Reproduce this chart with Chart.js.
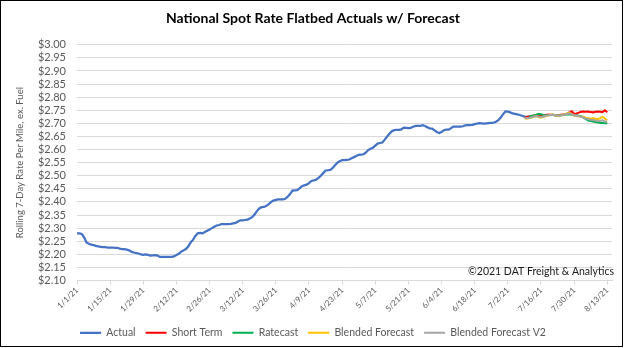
<!DOCTYPE html>
<html>
<head>
<meta charset="utf-8">
<script src="https://cdn.jsdelivr.net/npm/chart.js@4.4.0/dist/chart.umd.min.js"></script>
<style>
  html, body { margin: 0; padding: 0; background: #fff; }
  #wrap { position: relative; width: 624px; height: 348px; }
  #frame { position: absolute; left: 0; top: 0; width: 623px; height: 347px; box-sizing: border-box; border: 1px solid #000; pointer-events: none; }
  canvas { position: absolute; left: 0; top: 0; }
</style>
</head>
<body>
<div id="wrap">
  <canvas id="c" width="624" height="348"></canvas>
  <div id="frame"></div>
</div>
<script>
// ---- Data ----
const chartTitle = 'National Spot Rate Flatbed Actuals w/ Forecast';
const yAxisTitle = 'Rolling 7-Day Rate Per Mile, ex. Fuel';
const copyrightText = '\u00A92021 DAT Freight & Analytics';
const seriesNames = ['Actual', 'Short Term', 'Ratecast', 'Blended Forecast', 'Blended Forecast V2'];

// daily categories 1/1/21 .. 8/15/21
const firstDay = [2021, 0, 1];
const dayCount = 227;
const tickLabels = ['1/1/21','1/15/21','1/29/21','2/12/21','2/26/21','3/12/21','3/26/21','4/9/21','4/23/21','5/7/21','5/21/21','6/4/21','6/18/21','7/2/21','7/16/21','7/30/21','8/13/21'];

// Actual, daily from 1/1/21
const actual = [
  2.280,2.280,2.278,2.265,2.245,2.240,2.237,2.235,2.232,2.230,
  2.228,2.227,2.227,2.226,2.226,2.226,2.225,2.225,2.222,2.220,
  2.220,2.218,2.215,2.210,2.207,2.205,2.203,2.200,2.198,2.200,
  2.198,2.195,2.196,2.197,2.195,2.190,2.190,2.190,2.190,2.190,
  2.190,2.192,2.197,2.202,2.210,2.215,2.220,2.230,2.245,2.255,
  2.270,2.280,2.282,2.280,2.285,2.290,2.295,2.300,2.305,2.310,
  2.312,2.315,2.315,2.315,2.315,2.316,2.318,2.320,2.325,2.330,
  2.330,2.331,2.332,2.337,2.342,2.352,2.365,2.375,2.380,2.381,
  2.385,2.392,2.400,2.405,2.408,2.410,2.410,2.410,2.412,2.420,
  2.430,2.443,2.444,2.445,2.452,2.460,2.463,2.466,2.472,2.480,
  2.482,2.485,2.492,2.500,2.510,2.520,2.521,2.522,2.530,2.540,
  2.550,2.555,2.560,2.560,2.561,2.562,2.567,2.571,2.575,2.580,
  2.581,2.582,2.588,2.598,2.603,2.607,2.615,2.623,2.625,2.627,
  2.638,2.650,2.660,2.670,2.674,2.675,2.675,2.677,2.684,2.683,
  2.682,2.683,2.687,2.690,2.690,2.690,2.693,2.690,2.685,2.681,
  2.680,2.673,2.667,2.663,2.667,2.674,2.676,2.676,2.682,2.688,
  2.688,2.688,2.688,2.689,2.692,2.693,2.693,2.694,2.697,2.699,
  2.701,2.700,2.699,2.700,2.701,2.702,2.703,2.706,2.712,2.722,
  2.735,2.746,2.745,2.742,2.738,2.736,2.734,2.732,2.729,2.726,
  2.725,2.726
];

// Forecasts, daily from 7/9/21 (day index 189)
const forecastStartIndex = 189;
const shortTerm = [
  2.722,2.724,2.726,2.728,2.730,2.732,2.730,2.728,2.730,2.732,
  2.734,2.733,2.732,2.731,2.730,2.732,2.734,2.735,2.737,2.742,
  2.746,2.736,2.738,2.741,2.744,2.745,2.744,2.745,2.743,2.742,
  2.744,2.745,2.744,2.743,2.750,2.742
];
const ratecast = [
  null,null,2.726,2.728,2.730,2.733,2.737,2.735,2.732,2.730,
  2.731,2.732,2.733,2.731,2.729,2.730,2.731,2.733,2.734,2.735,
  2.733,2.731,2.730,2.729,2.727,2.722,2.716,2.711,2.709,2.707,
  2.705,2.703,2.702,2.701,2.700,2.700
];
const blended = [
  2.720,2.718,2.720,2.722,2.725,2.727,2.724,2.722,2.725,2.728,
  2.730,2.733,2.735,2.730,2.728,2.730,2.732,2.735,2.738,2.740,
  2.735,2.730,2.728,2.727,2.725,2.725,2.722,2.720,2.718,2.720,
  2.718,2.716,2.720,2.725,2.718,2.712
];
const blendedV2 = [
  2.721,2.720,2.721,2.723,2.726,2.728,2.726,2.724,2.726,2.729,
  2.731,2.732,2.733,2.731,2.729,2.730,2.732,2.734,2.736,2.738,
  2.735,2.731,2.729,2.727,2.725,2.722,2.718,2.716,2.714,2.713,
  2.711,2.709,2.710,2.712,2.707,2.705
];

const yMin = 2.10, yMax = 3.00, yStep = 0.05;

// ---- build table ----
const categories = [];
for (let i = 0; i < dayCount; i++) {
  const d = new Date(firstDay[0], firstDay[1], firstDay[2] + i);
  categories.push((d.getMonth() + 1) + '/' + d.getDate() + '/' + String(d.getFullYear()).slice(2));
}
function pad(arr, start) {
  const out = new Array(dayCount).fill(null);
  arr.forEach((v, i) => { out[start + i] = v; });
  return out;
}

const copyrightPlugin = {
  id: 'copyright',
  afterDraw(chart) {
    const ctx = chart.ctx;
    ctx.save();
    ctx.font = '10.5px Lato';
    ctx.fillStyle = '#1a1a1a';
    ctx.textAlign = 'right';
    ctx.textBaseline = 'middle';
    ctx.fillText(copyrightText, 614, 272);
    ctx.restore();
  }
};

new Chart(document.getElementById('c'), {
  type: 'line',
  data: {
    labels: categories,
    datasets: [
      { label: seriesNames[0], data: pad(actual, 0), borderColor: '#4472C4', backgroundColor: '#4472C4', borderWidth: 2.25, order: 4 },
      { label: seriesNames[1], data: pad(shortTerm, forecastStartIndex), borderColor: '#FF0000', backgroundColor: '#FF0000', borderWidth: 2, order: 3 },
      { label: seriesNames[2], data: pad(ratecast, forecastStartIndex), borderColor: '#00B050', backgroundColor: '#00B050', borderWidth: 2, order: 2 },
      { label: seriesNames[3], data: pad(blended, forecastStartIndex), borderColor: '#FFC000', backgroundColor: '#FFC000', borderWidth: 2, order: 1 },
      { label: seriesNames[4], data: pad(blendedV2, forecastStartIndex), borderColor: '#A5A5A5', backgroundColor: '#A5A5A5', borderWidth: 2, order: 0 }
    ]
  },
  options: {
    responsive: false,
    animation: false,
    devicePixelRatio: 1,
    elements: { point: { radius: 0 }, line: { tension: 0 } },
    layout: { padding: { left: 14, right: 12, top: 8, bottom: 0 } },
    plugins: {
      tooltip: { enabled: false },
      title: {
        display: true, text: chartTitle, color: '#000',
        font: { family: 'Lato', size: 14, weight: 'bold' },
        padding: { top: 2, bottom: 18 }
      },
      legend: {
        position: 'bottom',
        labels: {
          usePointStyle: true, pointStyle: 'line', pointStyleWidth: 21,
          color: '#595959', font: { family: 'Lato', size: 10.5 },
          padding: 10,
          sort: (a, b) => a.datasetIndex - b.datasetIndex
        }
      }
    },
    scales: {
      x: {
        type: 'category',
        grid: { drawOnChartArea: false, drawTicks: true, tickLength: 4, color: '#D9D9D9' },
        border: { display: true, color: '#D9D9D9' },
        ticks: {
          autoSkip: false, maxRotation: 45, minRotation: 45,
          color: '#595959', font: { family: 'Lato', size: 8 }, padding: 1,
          callback: function(value, index) {
            const lab = this.getLabelForValue(value);
            return tickLabels.includes(lab) ? lab : null;
          }
        },
        afterFit: (s) => { s.height = 37; }
      },
      y: {
        min: yMin, max: yMax,
        grid: { color: '#D9D9D9', drawTicks: false },
        border: { display: false },
        ticks: {
          stepSize: yStep, padding: 11, color: '#595959', autoSkip: false,
          font: { family: 'Lato', size: 11 },
          callback: (v) => '$' + Number(v).toFixed(2)
        },
        title: {
          display: true, text: yAxisTitle, color: '#595959',
          font: { family: 'Lato', size: 9.5 }, padding: { top: 0, bottom: 2 }
        },
        afterFit: (s) => { s.width = 63; }
      }
    }
  },
  plugins: [copyrightPlugin]
});
</script>
</body>
</html>
